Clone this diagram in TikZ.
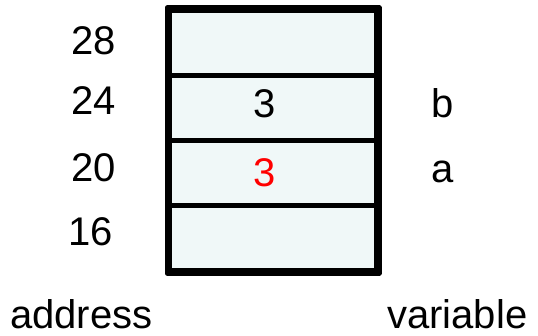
\documentclass[tikz,border=0pt]{standalone}
\usepackage{fontspec}
\setmainfont{Liberation Sans}
\definecolor{cellfill}{RGB}{240,248,248}
\definecolor{redtxt}{RGB}{255,0,0}
\begin{document}
\begin{tikzpicture}[x=1pt,y=1pt,
  cell/.style={draw=black,fill=cellfill,line width=5pt,line join=round,minimum width=207pt,minimum height=65pt,inner sep=0pt},
  lbl/.style={font=\fontsize{40}{46}\selectfont,inner sep=0pt,anchor=base west},
  val/.style={font=\fontsize{40}{46}\selectfont,inner sep=0pt,anchor=base}]
\useasboundingbox (0,0) rectangle (538,335);
\node[cell] (c28) at (273,292) {};
\node[cell] (c24) at (273,227) {};
\node[cell] (c20) at (273,162) {};
\node[cell] (c16) at (273,97) {};
\draw[line width=5pt,line join=round] (c28.north west) rectangle (c16.south east);
\node[val] (v24) at (265,217) {3};
\node[val,text=redtxt] (v20) at (265,148) {3};
\node[lbl] (a28) at (71,280) {28};
\node[lbl] (a24) at (71,220) {24};
\node[lbl] (a20) at (71,153) {20};
\node[lbl] (a16) at (68,90) {16};
\node[val] (nb) at (443,217) {b};
\node[val] (na) at (443,152) {a};
\node[lbl] (addr) at (10,7) {address};
\node[lbl] (var) at (387,7) {variable};
\end{tikzpicture}
\end{document}
